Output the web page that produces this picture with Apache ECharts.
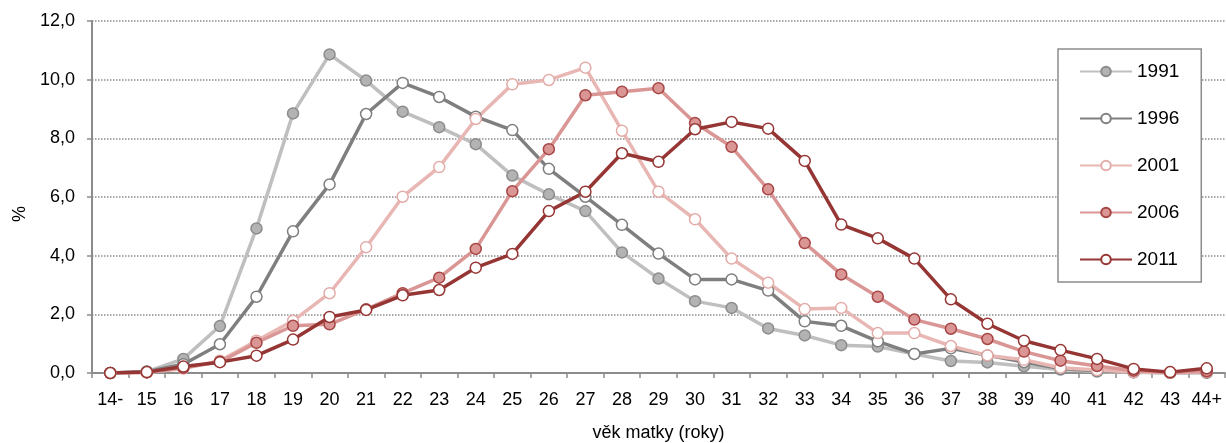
<!DOCTYPE html>
<html>
<head>
<meta charset="utf-8">
<script src="https://cdn.jsdelivr.net/npm/echarts@6/dist/echarts.min.js"></script>
<style>
  html, body { margin: 0; padding: 0; background: #fff; }
  #main { width: 1226px; height: 443px; }
</style>
</head>
<body>
<div id="main"></div>
<script>
// age categories on the x axis
const ages = ['14-', '15', '16', '17', '18', '19', '20', '21', '22', '23', '24', '25', '26', '27', '28',
  '29', '30', '31', '32', '33', '34', '35', '36', '37', '38', '39', '40', '41', '42', '43', '44+'];

// share of births by mother's age (%)
const y1991 = [0, 0.05, 0.48, 1.6, 4.93, 8.85, 10.86, 9.97, 8.91, 8.38, 7.80, 6.73, 6.09, 5.52, 4.11,
  3.22, 2.45, 2.22, 1.52, 1.28, 0.95, 0.9, 0.65, 0.41, 0.36, 0.23, 0.12, 0.05, 0.02, 0.01, 0.01];
const y1996 = [0, 0.04, 0.3, 0.98, 2.6, 4.83, 6.43, 8.83, 9.89, 9.41, 8.74, 8.28, 6.96, 6.01, 5.05,
  4.07, 3.19, 3.19, 2.81, 1.76, 1.61, 1.08, 0.65, 0.84, 0.6, 0.37, 0.15, 0.08, 0.03, 0.01, 0.02];
const y2001 = [0, 0.02, 0.15, 0.42, 1.1, 1.78, 2.72, 4.29, 6.01, 7.02, 8.66, 9.84, 9.99, 10.41, 8.26,
  6.18, 5.24, 3.9, 3.08, 2.18, 2.22, 1.36, 1.36, 0.92, 0.6, 0.45, 0.18, 0.1, 0.03, 0.01, 0.03];
const y2006 = [0, 0.02, 0.18, 0.38, 1.03, 1.61, 1.66, 2.17, 2.72, 3.25, 4.23, 6.2, 7.63, 9.47, 9.59,
  9.71, 8.52, 7.71, 6.26, 4.43, 3.36, 2.6, 1.82, 1.51, 1.16, 0.73, 0.42, 0.24, 0.08, 0.02, 0.06];
const y2011 = [0, 0.03, 0.22, 0.37, 0.59, 1.14, 1.91, 2.15, 2.65, 2.83, 3.59, 4.06, 5.52, 6.18, 7.49,
  7.2, 8.31, 8.56, 8.33, 7.23, 5.06, 4.59, 3.9, 2.51, 1.68, 1.1, 0.78, 0.48, 0.14, 0.03, 0.16];

const chart = echarts.init(document.getElementById('main'));
const font = 'Liberation Sans, Arial, sans-serif';

// line + marker style per year
const mkSeries = (name, data, line, fill, border) => ({
  name: name,
  type: 'line',
  data: data,
  symbol: 'circle',
  symbolSize: 11,
  showAllSymbol: true,
  lineStyle: { color: line, width: 3.5 },
  itemStyle: { color: fill, borderColor: border, borderWidth: 1.5 },
  emphasis: { disabled: true },
});

chart.setOption({
  animation: false,
  textStyle: { fontFamily: font },
  grid: { left: 92, right: 1, top: 21, bottom: 70, outerBoundsMode: 'none' },
  legend: {
    orient: 'vertical',
    left: 1058,
    top: 49,
    padding: [13, 22, 13, 21],
    itemWidth: 52,
    itemHeight: 12,
    itemGap: 28,
    backgroundColor: '#fff',
    borderColor: '#8c8c8c',
    borderWidth: 1.5,
    textStyle: { fontSize: 19, color: '#000', fontFamily: font },
    data: ['1991', '1996', '2001', '2006', '2011'],
  },
  xAxis: {
    type: 'category',
    data: ages,
    boundaryGap: true,
    name: 'věk matky (roky)',
    nameLocation: 'middle',
    nameGap: 51,
    nameTextStyle: { fontSize: 18, color: '#000', fontFamily: font },
    axisLine: { lineStyle: { color: '#8c8c8c', width: 2 } },
    axisTick: { show: true, length: 5, lineStyle: { color: '#8c8c8c', width: 1.5 } },
    axisLabel: { fontSize: 18, color: '#000', margin: 18, interval: 0, fontFamily: font },
  },
  yAxis: {
    type: 'value',
    min: 0,
    max: 12,
    interval: 2,
    name: '%',
    nameLocation: 'middle',
    nameGap: 62,
    nameTextStyle: { fontSize: 18, color: '#000', fontFamily: font, padding: [0, 34, 0, 0] },
    axisLine: { show: true, lineStyle: { color: '#8c8c8c', width: 2 } },
    axisTick: { show: true, length: 5, lineStyle: { color: '#8c8c8c', width: 1.5 } },
    axisLabel: {
      fontSize: 18, color: '#000', margin: 17, fontFamily: font,
      formatter: (v) => v.toFixed(1).replace('.', ','),
    },
    splitLine: { lineStyle: { color: '#8c8c8c', type: 'dotted', width: 1.5 } },
  },
  series: [
    mkSeries('1991', y1991, '#bfbfbf', '#b3b3b3', '#8c8c8c'),
    mkSeries('1996', y1996, '#7f7f7f', '#ffffff', '#7f7f7f'),
    mkSeries('2001', y2001, '#e8b7b4', '#ffffff', '#e3aca9'),
    mkSeries('2006', y2006, '#d99694', '#d99694', '#a84545'),
    mkSeries('2011', y2011, '#963634', '#ffffff', '#963634'),
  ],
});
</script>
</body>
</html>
